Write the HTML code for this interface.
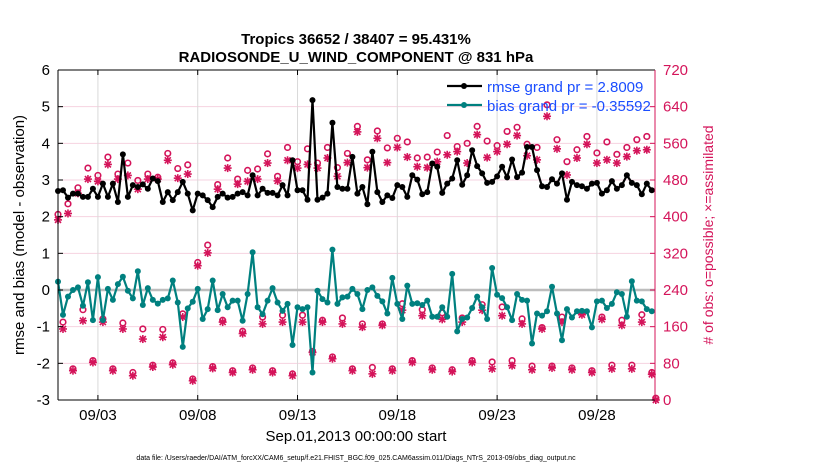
<!DOCTYPE html>
<html><head><meta charset="utf-8"><style>
html,body{margin:0;padding:0;background:#fff;width:830px;height:470px;overflow:hidden}
svg text{font-family:"Liberation Sans",Arial,sans-serif}
</style></head><body>
<svg id="chart" width="830" height="470" viewBox="0 0 830 470" xmlns="http://www.w3.org/2000/svg">
<text x="356" y="44" font-size="15" font-weight="bold" text-anchor="middle">Tropics 36652 / 38407 = 95.431%</text>
<text x="356" y="62" font-size="15" font-weight="bold" text-anchor="middle">RADIOSONDE_U_WIND_COMPONENT @ 831 hPa</text>
<g id="grid"></g>
<g id="marks"></g>
<g id="axes"></g>
<text x="356" y="441" font-size="15" text-anchor="middle">Sep.01,2013 00:00:00 start</text>
<text transform="translate(24,235) rotate(-90)" font-size="15" text-anchor="middle">rmse and bias (model - observation)</text>
<text transform="translate(713,235) rotate(-90)" font-size="14" fill="#d4145a" text-anchor="middle"># of obs: o=possible; ×=assimilated</text>
<text x="356" y="460" font-size="7" text-anchor="middle">data file: /Users/raeder/DAI/ATM_forcXX/CAM6_setup/f.e21.FHIST_BGC.f09_025.CAM6assim.011/Diags_NTrS_2013-09/obs_diag_output.nc</text>
<g id="legend"></g>
</svg>
<script>
const rmse = [2.70,2.72,2.52,2.63,2.63,2.54,2.54,2.76,2.54,2.90,2.54,2.90,2.40,3.70,2.54,2.86,2.81,2.88,2.76,3.04,2.97,2.40,2.67,2.45,2.67,2.95,2.63,2.17,2.63,
2.58,2.45,2.26,2.54,2.63,2.52,2.54,2.63,2.67,2.58,3.13,2.58,2.76,2.65,2.65,2.58,2.86,2.58,3.54,2.72,2.72,2.46,5.18,2.46,2.52,2.63,4.56,2.81,2.76,2.76,3.63,2.63,
2.81,2.34,3.77,2.67,2.40,2.58,2.51,2.86,2.81,2.54,3.13,3.01,2.61,2.67,3.45,3.36,2.65,2.90,3.04,3.54,2.87,3.13,3.81,3.38,3.18,2.92,2.95,3.10,3.36,
3.07,3.56,3.08,3.20,3.90,3.90,3.27,2.83,2.81,3.02,2.90,3.18,2.46,2.95,2.86,2.83,2.76,2.90,2.92,2.63,2.72,2.97,2.76,2.86,3.13,2.92,2.86,2.61,2.90,2.72];
const bias = [0.23,-0.68,-0.18,0,0.07,-0.43,0.21,-0.82,0.35,-0.82,0.03,-0.27,0.16,0.36,-0.02,-0.23,0.51,-0.41,0.05,-0.27,-0.37,-0.27,-0.23,0.26,-0.34,-1.55,-0.5,-0.32,0.03,
-0.79,-0.52,0.26,-0.55,-0.11,-0.47,-0.29,-0.29,-0.84,-0.11,1.03,-0.47,-0.66,-0.29,0.05,-0.34,-0.57,-0.38,-1.5,-0.47,-0.52,-0.47,-2.25,-0.02,-0.25,-0.34,1.1,-0.38,-0.2,-0.18,0.03,-0.11,
-0.52,0,0.07,-0.16,-0.31,-0.64,0.33,-0.38,-0.79,0.12,-0.38,-0.36,-0.41,-0.29,-0.73,-0.73,-0.47,-0.73,0.44,-1.13,-0.79,-0.75,-0.49,-0.18,-0.47,-0.79,0.6,-0.13,-0.22,
-0.47,-0.82,-0.11,-0.27,-0.29,-1.46,-0.64,-0.7,-0.58,0.09,-0.64,-1.37,-0.52,-0.75,-0.58,-0.57,-0.58,-1.02,-0.31,-0.29,-0.49,-0.38,-0.06,-0.11,-0.73,0.24,-0.29,-0.31,-0.52,-0.58];
const stepDays = 0.25;
const obsDays = [0,0.5,1,1.5,2,2.5,3,3.5,4,4.5,5,5.5,6,6.5,7,7.5,8,8.5,9,9.5,10,10.5,11,11.5,12,12.5,13,13.5,14,14.5,15,15.5,16,16.5,17,17.5,18,18.5,19,19.5,20,20.5,21,21.5,22,22.5,23,23.5,24,24.5,25,25.5,26,26.5,27,27.5,28,28.5,29,29.5,
0.25,1.25,2.25,3.25,4.25,5.25,6.25,8.25,9.25,10.25,11.25,12.25,13.25,14.25,15.25,16.25,17.25,18.25,19.25,20.25,21.25,22.25,23.25,24.25,25.25,26.25,27.25,28.25,29.25,
0.75,1.75,2.75,3.75,4.75,5.75,6.75,7.75,8.75,9.75,10.75,11.75,12.75,13.75,14.75,15.75,16.75,17.75,18.75,19.75,20.75,21.75,22.75,23.75,24.75,25.75,26.75,27.75,28.75,29.75,29.95];
const obsPossible = [405,428,463,506,490,530,493,517,479,493,486,538,505,513,300,338,470,528,482,501,504,537,488,551,520,548,517,551,507,538,597,524,587,550,571,563,528,530,541,577,553,560,597,565,555,586,595,558,551,644,568,520,546,575,539,563,536,551,568,575,
170,197,177,168,155,154,188,174,150,181,185,185,174,179,166,166,210,197,190,179,208,203,177,158,181,190,181,174,186,
68,86,68,60,76,81,46,73,64,70,64,57,106,94,68,71,68,86,70,66,86,83,86,74,74,70,64,76,76,60,4];
const obsAssim = [393,407,451,482,477,514,482,490,460,482,482,523,484,493,293,321,460,506,471,477,482,517,478,523,506,514,506,528,488,518,585,507,571,518,551,530,509,507,520,535,542,517,579,529,542,558,577,533,524,619,548,491,528,558,517,524,517,531,544,546,
155,173,170,155,133,137,181,170,145,166,170,170,170,166,159,163,196,184,176,170,196,184,166,155,170,186,176,163,170,
64,82,64,53,72,77,42,69,60,66,60,53,104,90,64,57,64,82,66,62,82,68,75,66,70,66,60,68,68,56,0];
const leftTicks = [-3,-2,-1,0,1,2,3,4,5,6];
const rightTicks = [0,80,160,240,320,400,480,560,640,720];
const dateTicks = [2,7,12,17,22,27];
const dateLabels = ['09/03','09/08','09/13','09/18','09/23','09/28'];

const NS='http://www.w3.org/2000/svg';
const L=58,R=655,T=70,B=400, DAYPX=19.96;
const xs = d => L + d*DAYPX;
const yl = v => B - (v+3)/9*(B-T);
const yr = v => B - v/720*(B-T);
function mk(parent,tag,attrs){const e=document.createElementNS(NS,tag);for(const k in attrs)e.setAttribute(k,attrs[k]);parent.appendChild(e);return e;}
const grid=document.getElementById('grid'),marks=document.getElementById('marks'),axes=document.getElementById('axes'),leg=document.getElementById('legend');
const RED='#d4145a',TEAL='#00807f';

leftTicks.forEach(v=>{
  if(v>-3&&v<6){const g=mk(grid,'line',{x1:L,x2:R,y1:yl(v),y2:yl(v),stroke:'#f6d3e0','stroke-width':1});
  
  }
  const t=mk(axes,'text',{x:L-8,y:yl(v)+5,'font-size':15,'text-anchor':'end'});t.textContent=v;
  
  
  mk(axes,'line',{x1:L,x2:L+5,y1:yl(v),y2:yl(v),stroke:'#000'});
});
rightTicks.forEach(v=>{
  const t=mk(axes,'text',{x:R+8,y:yr(v)+5,'font-size':15,fill:RED});t.textContent=v;
  
  
  mk(axes,'line',{x1:R-5,x2:R,y1:yr(v),y2:yr(v),stroke:RED});
});
dateTicks.forEach((d,i)=>{
  const g=mk(grid,'line',{x1:xs(d),x2:xs(d),y1:T,y2:B,stroke:'#d9d9d9','stroke-width':1});
  
  
  const t=mk(axes,'text',{x:xs(d),y:B+20,'font-size':15,'text-anchor':'middle'});t.textContent=dateLabels[i];
  
  
  mk(axes,'line',{x1:xs(d),x2:xs(d),y1:B,y2:B-5,stroke:'#000'});
  mk(axes,'line',{x1:xs(d),x2:xs(d),y1:T,y2:T+5,stroke:'#000'});
});
const zl=mk(grid,'line',{x1:L,x2:R,y1:yl(0),y2:yl(0),stroke:'#bdbdbd','stroke-width':2.5});



function star(x,y){
  const g=mk(marks,'g',{stroke:RED,'stroke-width':1.6});
  
  
  const s=4;
  mk(g,'line',{x1:x-s,x2:x+s,y1:y,y2:y});mk(g,'line',{x1:x,x2:x,y1:y-s,y2:y+s});
  mk(g,'line',{x1:x-3,x2:x+3,y1:y-3,y2:y+3});mk(g,'line',{x1:x-3,x2:x+3,y1:y+3,y2:y-3});
}
obsDays.forEach((d,i)=>{
  const c=mk(marks,'circle',{cx:xs(d),cy:yr(obsPossible[i]),r:2.8,fill:'none',stroke:RED,'stroke-width':1.6});
  
  
  star(xs(d),yr(obsAssim[i]));
});
function series(arr,color,name){
  const pts=arr.map((v,i)=>xs(i*stepDays).toFixed(1)+','+yl(v).toFixed(1)).join(' ');
  const p=mk(marks,'polyline',{points:pts,fill:'none',stroke:color,'stroke-width':2.2,'stroke-linejoin':'round'});
  
  
  arr.forEach((v,i)=>{const c=mk(marks,'circle',{cx:xs(i*stepDays),cy:yl(v),r:3,fill:color});
    
    });
}
series(bias,TEAL,'bias');
series(rmse,'#000','rmse');

mk(axes,'line',{x1:L,x2:R,y1:T,y2:T,stroke:'#000','stroke-width':1});
mk(axes,'line',{x1:L,x2:R,y1:B,y2:B,stroke:'#000','stroke-width':1});
mk(axes,'line',{x1:L,x2:L,y1:T,y2:B,stroke:'#000','stroke-width':1});
mk(axes,'line',{x1:R,x2:R,y1:T,y2:B,stroke:RED,'stroke-width':1});

[['rmse grand pr = 2.8009','#000',91,'legend-entry-rmse'],['bias grand pr = -0.35592',TEAL,110,'legend-entry-bias']].forEach(e=>{
  const g=mk(leg,'g',{});
  
  
  mk(g,'line',{x1:447,x2:482,y1:e[2]-5,y2:e[2]-5,stroke:e[1],'stroke-width':2.2});
  mk(g,'circle',{cx:464,cy:e[2]-5,r:3,fill:e[1]});
  const t=mk(g,'text',{x:487,y:e[2]+1,'font-size':15,fill:'#1a4dff'});t.textContent=e[0];
});
</script>
</body></html>
